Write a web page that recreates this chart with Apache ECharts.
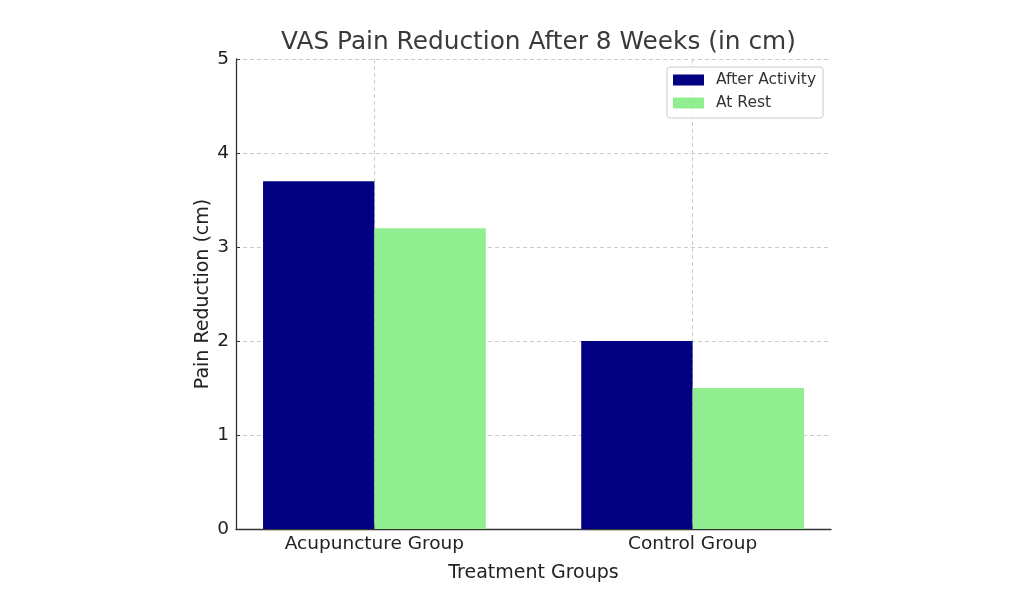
<!doctype html>
<html lang="en">
 <head>
  <meta charset="UTF-8">
  <style type="text/css">
  html,body{margin:0;padding:0;background:#fff;}
  #chart{width:1024px;height:598px;}
  </style>
  <script src="https://cdn.jsdelivr.net/npm/echarts@6/dist/echarts.min.js"></script>
  <title>VAS Pain Reduction</title>
 </head>
 <body>
    <div id="chart"></div>
    <script type="text/javascript">
    // data
    var groups = ['Acupuncture Group', 'Control Group'];
    var groupPos = [0, 1];
    var afterActivity = [3.7, 2.0];
    var atRest = [3.2, 1.5];
    var yTicks = [0, 1, 2, 3, 4, 5];

    function pairs(vals) {
        var out = [];
        for (var i = 0; i < vals.length; i++) {
            out.push([groupPos[i], vals[i]]);
        }
        return out;
    }

    var font = 'DejaVu Sans';
    var myChart = echarts.init(document.getElementById('chart'));
    var option = {
        animation: false,
        textStyle: { fontFamily: font },
        title: {
            text: 'VAS Pain Reduction After 8 Weeks (in cm)',
            left: 533.5,
            textAlign: 'center',
            top: 25,
            textStyle: { fontFamily: font, fontSize: 24.8, fontWeight: 'normal', color: '#3a3a3a' }
        },
        legend: {
            orient: 'vertical',
            left: 667,
            top: 67,
            padding: [5, 7, 7, 6],
            itemWidth: 31,
            itemHeight: 11,
            itemGap: 7,
            icon: 'rect',
            borderColor: '#ccc',
            borderWidth: 1,
            borderRadius: 3,
            backgroundColor: 'rgba(255,255,255,0.8)',
            textStyle: { fontFamily: font, fontSize: 15.5, color: '#333', padding: [0, 0, 0, 7] },
            data: ['After Activity', 'At Rest']
        },
        grid: { left: 236, right: 193, top: 59, bottom: 69, containLabel: false },
        xAxis: {
            type: 'value',
            min: -0.435,
            max: 1.435,
            name: 'Treatment Groups',
            nameLocation: 'middle',
            nameGap: 35,
            nameMoveOverlap: false,
            nameTextStyle: { fontFamily: font, fontSize: 19, color: '#222' },
            axisLine: { show: true, onZero: false, lineStyle: { color: '#333', width: 1.3 } },
            axisTick: { show: true, inside: true, length: 4, customValues: groupPos, lineStyle: { color: '#333' } },
            axisLabel: {
                customValues: groupPos,
                margin: 6,
                fontFamily: font, fontSize: 18.5, color: '#222',
                formatter: function (v) {
                    var i = groupPos.indexOf(Math.round(v));
                    return i >= 0 ? groups[i] : '';
                }
            },
            splitLine: { show: true, lineStyle: { color: '#ccc', type: [4, 3], width: 1 } }
        },
        yAxis: {
            type: 'value',
            min: yTicks[0],
            max: yTicks[yTicks.length - 1],
            interval: 1,
            name: 'Pain Reduction (cm)',
            nameLocation: 'middle',
            nameGap: 23,
            nameMoveOverlap: false,
            nameTextStyle: { fontFamily: font, fontSize: 19, color: '#222' },
            axisLine: { show: true, onZero: false, lineStyle: { color: '#333', width: 1.3 } },
            axisTick: { show: true, inside: true, length: 4, lineStyle: { color: '#333' } },
            axisLabel: { margin: 7, fontFamily: font, fontSize: 18.5, color: '#222' },
            splitLine: { show: true, lineStyle: { color: '#ccc', type: [4, 3], width: 1 } }
        },
        series: [
            {
                name: 'After Activity',
                type: 'bar',
                barWidth: '35%',
                barGap: '0%',
                itemStyle: { color: '#000080' },
                data: pairs(afterActivity)
            },
            {
                name: 'At Rest',
                type: 'bar',
                barWidth: '35%',
                barGap: '0%',
                itemStyle: { color: '#90EE90' },
                data: pairs(atRest)
            }
        ]
    };
    myChart.setOption(option);
    </script>
 </body>
</html>
